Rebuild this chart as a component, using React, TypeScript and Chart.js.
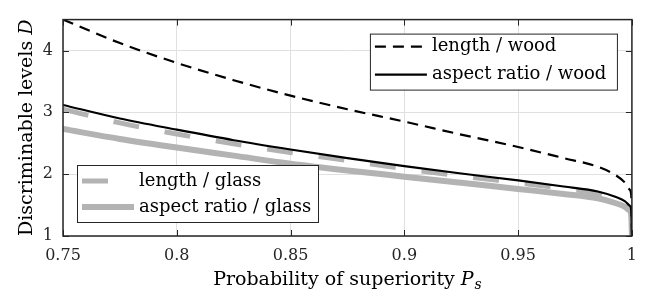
import React, { useEffect, useRef } from "react";
import { Chart, registerables } from "chart.js";

Chart.register(...registerables);

// ---- data ----
const pValues = [0.75, 0.775, 0.8, 0.825, 0.85, 0.875, 0.9, 0.925, 0.95, 0.97, 0.985, 0.993, 0.997, 0.999, 0.9997, 1];
const lengthWood = [4.5, 4.12, 3.8, 3.52, 3.27, 3.05, 2.85, 2.64, 2.44, 2.26, 2.12, 1.98, 1.86, 1.75, 1.66, 1.0];
const aspectWood = [3.12, 2.9, 2.72, 2.55, 2.4, 2.26, 2.13, 2.01, 1.9, 1.8, 1.72, 1.63, 1.56, 1.49, 1.42, 1.0];
const lengthGlass = [3.05, 2.83, 2.65, 2.49, 2.35, 2.22, 2.09, 1.97, 1.86, 1.77, 1.69, 1.6, 1.53, 1.46, 1.39, 1.0];
const aspectGlass = [2.73, 2.57, 2.43, 2.3, 2.17, 2.06, 1.96, 1.86, 1.76, 1.68, 1.61, 1.53, 1.47, 1.41, 1.35, 1.0];

const xTicks = [0.75, 0.8, 0.85, 0.9, 0.95, 1];
const xTickLabels = ["0.75", "0.8", "0.85", "0.9", "0.95", "1"];
const yTicks = [1, 2, 3, 4];
const yTickLabels = ["1", "2", "3", "4"];

const seriesNames = ["length / wood", "aspect ratio / wood", "length / glass", "aspect ratio / glass"];
const xTitle = "Probability of superiority";
const yTitle = "Discriminable levels";

// ---- styles ----
const FONT = "DejaVu Serif";
const AXIS = "#262626";
const GRID = "#e0e0e0";
const GRAY = "#b3b3b3";

const styles = [
  { color: "#000000", width: 2.2, dash: [11, 7] },
  { color: "#000000", width: 2.1, dash: [] as number[] },
  { color: GRAY, width: 5, dash: [26, 26] },
  { color: GRAY, width: 6, dash: [] as number[] },
];

const series = [lengthWood, aspectWood, lengthGlass, aspectGlass];

function drawLegend(ctx: CanvasRenderingContext2D, left: number, top: number, w: number, h: number, items: number[], rowYs: number[]) {
  ctx.save();
  ctx.fillStyle = "#ffffff";
  ctx.fillRect(left, top, w, h);
  ctx.strokeStyle = AXIS;
  ctx.lineWidth = 1;
  ctx.setLineDash([]);
  ctx.strokeRect(left + 0.5, top + 0.5, w, h);
  items.forEach((idx, i) => {
    const s = styles[idx];
    const yy = top + rowYs[i];
    ctx.strokeStyle = s.color;
    ctx.lineWidth = s.width;
    ctx.setLineDash(s.dash);
    ctx.lineDashOffset = 0;
    ctx.beginPath();
    ctx.moveTo(left + 5, yy);
    ctx.lineTo(left + 57, yy);
    ctx.stroke();
    ctx.setLineDash([]);
    ctx.fillStyle = "#000000";
    ctx.font = `18px "${FONT}"`;
    ctx.textBaseline = "middle";
    ctx.textAlign = "left";
    ctx.fillText(seriesNames[idx], left + 62, yy);
  });
  ctx.restore();
}

const overlay = {
  id: "overlay",
  afterDatasetsDraw(chart: any) {
    const { ctx, chartArea: a, scales } = chart;
    const xs = scales.x;
    const ys = scales.y;
    const TL = 6;
    ctx.save();
    // inward tick marks
    ctx.strokeStyle = AXIS;
    ctx.lineWidth = 1;
    ctx.setLineDash([]);
    ctx.beginPath();
    xTicks.forEach((v) => {
      const px = Math.round(xs.getPixelForValue(v)) + 0.5;
      ctx.moveTo(px, a.bottom);
      ctx.lineTo(px, a.bottom - TL);
      ctx.moveTo(px, a.top);
      ctx.lineTo(px, a.top + TL);
    });
    yTicks.forEach((v) => {
      const py = Math.round(ys.getPixelForValue(v)) + 0.5;
      ctx.moveTo(a.left, py);
      ctx.lineTo(a.left + TL, py);
      ctx.moveTo(a.right, py);
      ctx.lineTo(a.right - TL, py);
    });
    ctx.stroke();
    // box
    ctx.lineWidth = 1.5;
    ctx.strokeRect(a.left, a.top, a.right - a.left, a.bottom - a.top);

    // legends
    drawLegend(ctx, a.right - 262, a.top + 14, 247, 56, [0, 1], [13, 41]);
    drawLegend(ctx, a.left + 14, a.bottom - 71, 241, 57, [2, 3], [16, 42]);

    // x title with italic P_s
    ctx.fillStyle = "#000000";
    ctx.textBaseline = "alphabetic";
    ctx.textAlign = "left";
    const mainFont = `19px "${FONT}"`;
    const itFont = `italic 19px "${FONT}"`;
    const subFont = `italic 14px "${FONT}"`;
    ctx.font = mainFont;
    const t1 = xTitle + " ";
    const w1 = ctx.measureText(t1).width;
    ctx.font = itFont;
    const wP = ctx.measureText("P").width;
    ctx.font = subFont;
    const wS = ctx.measureText("s").width;
    const total = w1 + wP + wS + 1;
    const cx = (a.left + a.right) / 2;
    let sx = cx - total / 2;
    const by = 285;
    ctx.font = mainFont;
    ctx.fillText(t1, sx, by);
    sx += w1;
    ctx.font = itFont;
    ctx.fillText("P", sx, by);
    sx += wP + 1;
    ctx.font = subFont;
    ctx.fillText("s", sx, by + 4);

    // y title rotated with italic D
    const cy = (a.top + a.bottom) / 2;
    ctx.save();
    ctx.translate(32, cy);
    ctx.rotate(-Math.PI / 2);
    ctx.font = mainFont;
    const y1 = yTitle + " ";
    const wy1 = ctx.measureText(y1).width;
    ctx.font = itFont;
    const wD = ctx.measureText("D").width;
    const ty = wy1 + wD;
    ctx.font = mainFont;
    ctx.fillText(y1, -ty / 2, 0);
    ctx.font = itFont;
    ctx.fillText("D", -ty / 2 + wy1, 0);
    ctx.restore();

    ctx.restore();
  },
};

export default function App() {
  const ref = useRef<HTMLCanvasElement | null>(null);
  useEffect(() => {
    if (!ref.current) return;
    const datasets = series.map((vals, i) => ({
      label: seriesNames[i],
      data: pValues.map((p, j) => ({ x: p, y: vals[j] })),
      borderColor: styles[i].color,
      borderWidth: styles[i].width,
      borderDash: styles[i].dash,
      pointRadius: 0,
      fill: false,
      cubicInterpolationMode: "monotone" as const,
      borderCapStyle: "butt" as const,
    }));
    const chart = new Chart(ref.current, {
      type: "line",
      data: { datasets },
      options: {
        animation: false,
        responsive: true,
        maintainAspectRatio: false,
        layout: { padding: { left: 0, top: 7, right: 12, bottom: 0 } },
        plugins: { legend: { display: false }, tooltip: { enabled: false } },
        scales: {
          x: {
            type: "linear",
            min: 0.75,
            max: 1,
            afterBuildTicks: (s: any) => {
              s.ticks = xTicks.map((v) => ({ value: v }));
            },
            afterFit: (s: any) => {
              s.height = 64;
            },
            ticks: {
              autoSkip: false,
              maxRotation: 0,
              padding: 10,
              color: AXIS,
              font: { family: FONT, size: 16 },
              callback: (v: any) => {
                const i = xTicks.findIndex((t) => Math.abs(t - Number(v)) < 1e-9);
                return i >= 0 ? xTickLabels[i] : "";
              },
            },
            grid: { color: GRID, lineWidth: 1, drawTicks: false },
            border: { display: false },
          },
          y: {
            type: "linear",
            min: 1,
            max: 4.5,
            afterBuildTicks: (s: any) => {
              s.ticks = yTicks.map((v) => ({ value: v }));
            },
            afterFit: (s: any) => {
              s.width = 63;
            },
            ticks: {
              autoSkip: false,
              padding: 10,
              color: AXIS,
              font: { family: FONT, size: 16 },
              callback: (v: any) => {
                const i = yTicks.findIndex((t) => Math.abs(t - Number(v)) < 1e-9);
                return i >= 0 ? yTickLabels[i] : "";
              },
            },
            grid: { color: GRID, lineWidth: 1, drawTicks: false },
            border: { display: false },
          },
        },
      },
      plugins: [overlay],
    });
    return () => chart.destroy();
  }, []);
  return (
    <div style={{ position: "absolute", left: 0, top: 0, width: 647, height: 300, background: "#ffffff" }}>
      <canvas ref={ref} />
    </div>
  );
}
